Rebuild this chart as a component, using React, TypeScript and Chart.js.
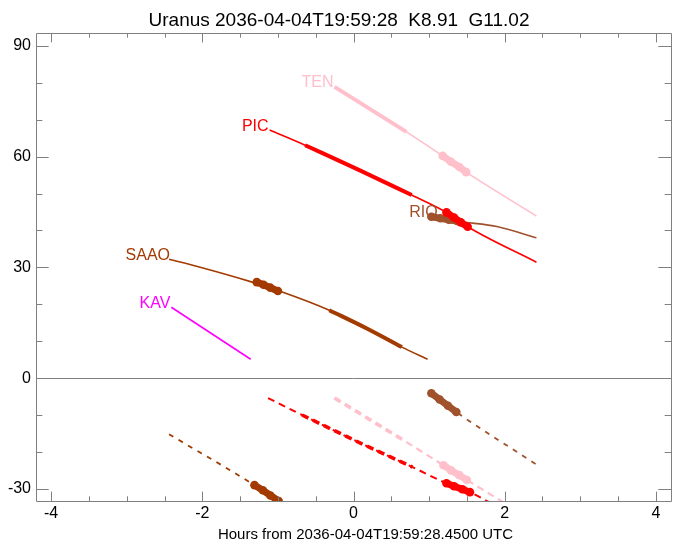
import { useEffect, useRef } from "react";
import { Chart, registerables } from "chart.js";

Chart.register(...registerables);

const TITLE = "Uranus 2036-04-04T19:59:28  K8.91  G11.02";
const X_TITLE = "Hours from 2036-04-04T19:59:28.4500 UTC";
const X_MIN = -4.2;
const X_MAX = 4.2;
const Y_MIN = -33.3;
const Y_MAX = 93.5;
const xTicks = [-4, -2, 0, 2, 4];
const yTicks = [-30, 0, 30, 60, 90];
const xMinorStep = 0.5;
const yMinorStep = 10;

const stationNames = ["TEN", "PIC", "RIO", "SAAO", "KAV"];
const stationColors = ["#FFC0CB", "#FF0000", "#A0522D", "#A33A00", "#FF00FF"];

// upper curves (altitude)
const tenX = [-0.25, 0.7, 1.18, 1.49, 2.42];
const tenY = [78.9, 66.7, 60.2, 55.8, 43.9];
const tenThickX = [-0.25, 0.7];
const tenThickY = [78.9, 66.7];
const tenDotX = [1.18, 1.29, 1.4, 1.49];
const tenDotY = [60.2, 58.6, 57.2, 55.8];

const picX = [-1.11, -0.64, 0.07, 0.77, 1.23, 1.51, 2.42];
const picY = [67.2, 63.1, 56.4, 49.6, 44.9, 41.0, 31.4];
const picThickX = [-0.64, 0.07, 0.77];
const picThickY = [63.1, 56.4, 49.6];
const picDotX = [1.23, 1.33, 1.42, 1.51];
const picDotY = [44.9, 43.5, 42.2, 41.0];

const rioX = [1.02, 1.38, 1.91, 2.42];
const rioY = [43.9, 42.5, 41.0, 38.0];
const rioDotX = [1.03, 1.15, 1.26, 1.38];
const rioDotY = [43.7, 43.3, 42.9, 42.5];

const saaoX = [-2.44, -2.04, -1.34, -0.98, -0.32, 0.17, 0.64, 0.98];
const saaoY = [32.2, 30.1, 26.0, 23.6, 18.4, 13.5, 8.4, 5.1];
const saaoThickX = [-0.32, 0.17, 0.64];
const saaoThickY = [18.4, 13.5, 8.4];
const saaoDotX = [-1.28, -1.19, -1.1, -1.0];
const saaoDotY = [26.0, 25.3, 24.5, 23.6];

const kavX = [-2.41, -1.36];
const kavY = [19.2, 5.1];

// lower dashed curves
const tenBX = [-0.25, 0.65, 1.19, 1.5, 2.05];
const tenBY = [-5.4, -16.7, -23.6, -27.6, -34.5];
const tenBThickX = [-0.25, 0.65];
const tenBThickY = [-5.4, -16.7];
const tenBDotX = [1.19, 1.29, 1.4, 1.5];
const tenBDotY = [-23.6, -25.0, -26.3, -27.6];

const picBX = [-1.13, -0.68, 0.05, 0.78, 1.23, 1.54, 1.89];
const picBY = [-5.4, -10.0, -17.2, -24.1, -28.5, -30.9, -34.7];
const picBThickX = [-0.68, 0.05, 0.78];
const picBThickY = [-10.0, -17.2, -24.1];
const picBDotX = [1.23, 1.33, 1.44, 1.54];
const picBDotY = [-28.5, -29.3, -30.1, -30.9];

const rioBX = [1.03, 1.36, 2.41];
const rioBY = [-4.1, -9.2, -23.3];
const rioBDotX = [1.03, 1.14, 1.25, 1.36];
const rioBDotY = [-4.1, -5.8, -7.5, -9.2];

const saaoBX = [-2.44, -1.31, -0.99, -0.85];
const saaoBY = [-15.2, -29.0, -33.3, -35.5];
const saaoBDotX = [-1.31, -1.2, -1.1, -0.99];
const saaoBDotY = [-29.0, -30.4, -31.8, -33.3];

const FONT = "'Liberation Sans', Arial, Helvetica, sans-serif";
const AXIS_GRAY = "#808080";

const pts = (xs: number[], ys: number[]) => xs.map((x, i) => ({ x, y: ys[i] }));

function thin(xs: number[], ys: number[], color: string, dash: number[] = [], width = 1.6) {
  return {
    data: pts(xs, ys),
    borderColor: color,
    backgroundColor: color,
    borderWidth: width,
    borderDash: dash,
    pointRadius: 0,
    cubicInterpolationMode: "monotone" as const,
    order: 3,
  };
}
function thick(xs: number[], ys: number[], color: string, dash: number[] = [], width = 4) {
  return {
    data: pts(xs, ys),
    borderColor: color,
    backgroundColor: color,
    borderWidth: width,
    borderDash: dash,
    pointRadius: 0,
    cubicInterpolationMode: "monotone" as const,
    order: 2,
  };
}
function dots(xs: number[], ys: number[], color: string) {
  return {
    data: pts(xs, ys),
    borderColor: color,
    backgroundColor: color,
    borderWidth: 7,
    pointRadius: 4.3,
    pointBorderWidth: 0,
    pointBackgroundColor: color,
    borderCapStyle: "round" as const,
    order: 1,
  };
}

const [cTEN, cPIC, cRIO, cSAAO, cKAV] = stationColors;
const DASH = [7, 5];

const labelStarts = [
  { name: stationNames[0], color: cTEN, x: tenX[0], y: tenY[0], dx: 0 },
  { name: stationNames[1], color: cPIC, x: picX[0], y: picY[0], dx: 0 },
  { name: stationNames[2], color: cRIO, x: rioX[0], y: rioY[0], dx: 8 },
  { name: stationNames[3], color: cSAAO, x: saaoX[0], y: saaoY[0], dx: 2 },
  { name: stationNames[4], color: cKAV, x: kavX[0], y: kavY[0], dx: 0 },
];

const decoPlugin = {
  id: "deco",
  beforeDatasetsDraw(chart: any) {
    const { ctx, chartArea: a, scales } = chart;
    const y0 = scales.y.getPixelForValue(0);
    ctx.save();
    ctx.strokeStyle = AXIS_GRAY;
    ctx.lineWidth = 1;
    ctx.beginPath();
    ctx.moveTo(a.left, Math.round(y0) + 0.5);
    ctx.lineTo(a.right, Math.round(y0) + 0.5);
    ctx.stroke();
    ctx.restore();
  },
  afterDatasetsDraw(chart: any) {
    const { ctx, scales } = chart;
    ctx.save();
    ctx.font = `16px ${FONT}`;
    ctx.textAlign = "right";
    ctx.textBaseline = "alphabetic";
    for (const l of labelStarts) {
      ctx.fillStyle = l.color;
      ctx.fillText(l.name, scales.x.getPixelForValue(l.x) - 1 + l.dx, scales.y.getPixelForValue(l.y) + 0.5);
    }
    ctx.restore();
  },
  afterDraw(chart: any) {
    const { ctx, chartArea: a, scales, width } = chart;
    const L = a.left, R = a.right, T = a.top, B = a.bottom;
    ctx.save();
    ctx.strokeStyle = AXIS_GRAY;
    ctx.lineWidth = 1;
    ctx.beginPath();
    ctx.rect(Math.round(L) + 0.5, Math.round(T) + 0.5, Math.round(R - L), Math.round(B - T));
    ctx.stroke();
    const xMajLen = 0.02 * (B - T);
    const yMajLen = 0.02 * (R - L);
    ctx.beginPath();
    for (let v = Math.ceil(X_MIN / xMinorStep) * xMinorStep; v <= X_MAX + 1e-9; v += xMinorStep) {
      const isMaj = xTicks.some((t) => Math.abs(t - v) < 1e-6);
      const len = isMaj ? xMajLen : xMajLen / 2;
      const px = Math.round(scales.x.getPixelForValue(v)) + 0.5;
      ctx.moveTo(px, B);
      ctx.lineTo(px, B - len);
      ctx.moveTo(px, T);
      ctx.lineTo(px, T + len);
    }
    for (let v = Math.ceil(Y_MIN / yMinorStep) * yMinorStep; v <= Y_MAX + 1e-9; v += yMinorStep) {
      const isMaj = yTicks.some((t) => Math.abs(t - v) < 1e-6);
      const len = isMaj ? yMajLen : yMajLen / 2;
      const py = Math.round(scales.y.getPixelForValue(v)) + 0.5;
      ctx.moveTo(L, py);
      ctx.lineTo(L + len, py);
      ctx.moveTo(R, py);
      ctx.lineTo(R - len, py);
    }
    ctx.stroke();
    ctx.fillStyle = "#000";
    ctx.textAlign = "center";
    ctx.textBaseline = "alphabetic";
    ctx.font = `19px ${FONT}`;
    ctx.fillText(TITLE, width / 2, 26);
    ctx.font = `15px ${FONT}`;
    ctx.fillText(X_TITLE, (L + R) / 2 + 12, 539);
    ctx.restore();
  },
};

export default function App() {
  const ref = useRef<HTMLCanvasElement | null>(null);
  useEffect(() => {
    if (!ref.current) return;
    const chart = new Chart(ref.current, {
      type: "line",
      data: {
        datasets: [
          thin(tenX, tenY, cTEN),
          thick(tenThickX, tenThickY, cTEN),
          dots(tenDotX, tenDotY, cTEN),
          thin(picX, picY, cPIC),
          thick(picThickX, picThickY, cPIC),
          dots(picDotX, picDotY, cPIC),
          thin(rioX, rioY, cRIO),
          dots(rioDotX, rioDotY, cRIO),
          thin(saaoX, saaoY, cSAAO),
          thick(saaoThickX, saaoThickY, cSAAO),
          dots(saaoDotX, saaoDotY, cSAAO),
          thin(kavX, kavY, cKAV),
          thin(tenBX, tenBY, cTEN, DASH, 2.2),
          thick(tenBThickX, tenBThickY, cTEN, DASH, 3.6),
          dots(tenBDotX, tenBDotY, cTEN),
          thin(picBX, picBY, cPIC, DASH, 2),
          thick(picBThickX, picBThickY, cPIC, DASH, 3.6),
          dots(picBDotX, picBDotY, cPIC),
          thin(rioBX, rioBY, cRIO, [5, 6], 1.8),
          dots(rioBDotX, rioBDotY, cRIO),
          thin(saaoBX, saaoBY, cSAAO, [5, 6], 1.8),
          dots(saaoBDotX, saaoBDotY, cSAAO),
        ] as any,
      },
      options: {
        animation: false,
        responsive: false,
        devicePixelRatio: 1,
        layout: { padding: { top: 33, right: 7, left: 0, bottom: 0 } },
        plugins: { legend: { display: false }, tooltip: { enabled: false }, title: { display: false } },
        scales: {
          x: {
            type: "linear",
            min: X_MIN,
            max: X_MAX,
            afterBuildTicks: (s: any) => {
              s.ticks = xTicks.map((v) => ({ value: v }));
            },
            afterFit: (s: any) => {
              s.height = 43;
            },
            ticks: {
              font: { family: FONT, size: 16 },
              color: "#000",
              padding: 3,
              maxRotation: 0,
              autoSkip: false,
              callback: (v: any) => String(v),
            },
            grid: { display: false, drawTicks: false },
            border: { display: false },
          },
          y: {
            type: "linear",
            min: Y_MIN,
            max: Y_MAX,
            afterBuildTicks: (s: any) => {
              s.ticks = yTicks.map((v) => ({ value: v }));
            },
            afterFit: (s: any) => {
              s.width = 36;
            },
            ticks: {
              font: { family: FONT, size: 16 },
              color: "#000",
              padding: 5,
              autoSkip: false,
              callback: (v: any) => String(v),
            },
            grid: { display: false, drawTicks: false },
            border: { display: false },
          },
        },
      },
      plugins: [decoPlugin],
    });
    return () => chart.destroy();
  }, []);
  return (
    <div style={{ position: "absolute", left: 0, top: 0, width: 678, height: 544, background: "#fff" }}>
      <canvas ref={ref} width={678} height={544} style={{ width: 678, height: 544, display: "block" }} />
    </div>
  );
}
